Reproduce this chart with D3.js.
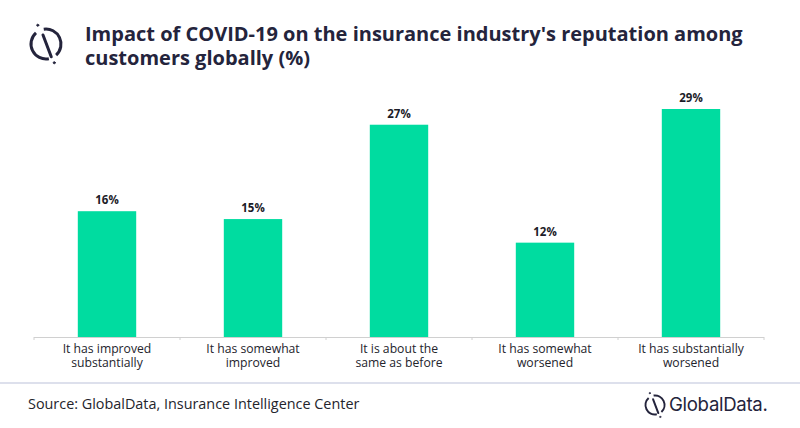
<!DOCTYPE html>
<html>
<head>
<meta charset="utf-8">
<script src="https://cdn.jsdelivr.net/npm/d3@7"></script>
<style>
  body { margin: 0; background: #fff; }
  text { font-family: "Open Sans", sans-serif; }
</style>
</head>
<body>
<svg id="chart" width="800" height="428"></svg>
<script>
const categories = ["improved", "somewhat_improved", "same", "somewhat_worsened", "worsened"];
const values = [16, 15, 27, 12, 29];
const tick_labels = [
    ["It has improved", "substantially"],
    ["It has somewhat", "improved"],
    ["It is about the", "same as before"],
    ["It has somewhat", "worsened"],
    ["It has substantially", "worsened"]
];
const title_lines = ["Impact of COVID-19 on the insurance industry's reputation among", "customers globally (%)"];
const source = "Source: GlobalData, Insurance Intelligence Center";

const color_bar = "#00dca0";
const color_dark = "#24243c";

const svg = d3.select("#chart");

// chart
const x = d3.scaleBand().domain(categories).range([34, 764]).paddingInner(0.6).paddingOuter(0.3);
const y = d3.scaleLinear().domain([0, 29]).range([337, 109]);

svg.selectAll("rect.bar").data(values).join("rect")
    .attr("class", "bar")
    .attr("x", (d, i) => x(categories[i]))
    .attr("y", d => y(d))
    .attr("width", x.bandwidth())
    .attr("height", d => y(0) - y(d))
    .attr("fill", color_bar);

svg.selectAll("text.value").data(values).join("text")
    .attr("class", "value")
    .attr("x", (d, i) => x(categories[i]) + x.bandwidth() / 2)
    .attr("y", d => y(d) - 7)
    .attr("text-anchor", "middle")
    .attr("font-size", 11.5)
    .attr("font-weight", 700)
    .attr("fill", "#1c1c28")
    .text(d => d + "%");

// axis
const step = x.step();
const axis = svg.append("g").attr("stroke", "#d0d0d0").attr("fill", "none");
axis.append("line").attr("x1", 34).attr("x2", 764).attr("y1", 337.5).attr("y2", 337.5);
d3.range(categories.length + 1).forEach(i => {
    axis.append("line").attr("x1", 34 + i * step).attr("x2", 34 + i * step).attr("y1", 337).attr("y2", 340);
});

categories.forEach((c, i) => {
    const t = svg.append("text")
        .attr("text-anchor", "middle")
        .attr("font-size", 12.2)
        .attr("fill", "#24242c");
    tick_labels[i].forEach((line, j) => {
        t.append("tspan")
            .attr("x", x(c) + x.bandwidth() / 2)
            .attr("y", 353 + j * 14)
            .text(line);
    });
});

// title
title_lines.forEach((line, i) => {
    svg.append("text")
        .attr("x", 85)
        .attr("y", 41 + i * 24)
        .attr("font-size", 20)
        .attr("font-weight", 700)
        .attr("fill", color_dark)
        .text(line);
});

// logo mark used in the title and the footer
function drawLogo(g, r, width) {
    g.attr("fill", "none").attr("stroke", color_dark).attr("stroke-width", width).attr("stroke-linecap", "round");
    const arc = d3.arc().innerRadius(r).outerRadius(r);
    g.append("path").attr("d", arc({startAngle: -0.15, endAngle: 2.4}));
    g.append("path").attr("d", arc({startAngle: 2.95, endAngle: 5.55}));
    g.append("line").attr("x1", -r * 0.2).attr("y1", -r * 0.6).attr("x2", r * 0.35).attr("y2", r * 0.85);
    g.append("circle").attr("cx", -r * 0.55).attr("cy", -r * 1.25).attr("r", width * 0.35).attr("fill", color_dark).attr("stroke-width", width * 0.3);
    g.append("circle").attr("cx", r * 0.55).attr("cy", r * 1.25).attr("r", width * 0.35).attr("fill", color_dark).attr("stroke-width", width * 0.3);
}
drawLogo(svg.append("g").attr("transform", "translate(46,44)"), 15, 3);
drawLogo(svg.append("g").attr("transform", "translate(655,405)"), 9.5, 2);

// footer
svg.append("rect").attr("x", 0).attr("y", 382).attr("width", 800).attr("height", 2).attr("fill", "#dde0ec");
svg.append("text")
    .attr("x", 28)
    .attr("y", 409)
    .attr("font-size", 14.4)
    .attr("fill", "#24242c")
    .text(source);
svg.append("text")
    .attr("x", 669)
    .attr("y", 411)
    .style("font-family", "Inter, sans-serif")
    .attr("font-size", 18.6)
    .attr("fill", color_dark)
    .attr("letter-spacing", -0.3)
    .text("GlobalData.");
</script>
</body>
</html>
